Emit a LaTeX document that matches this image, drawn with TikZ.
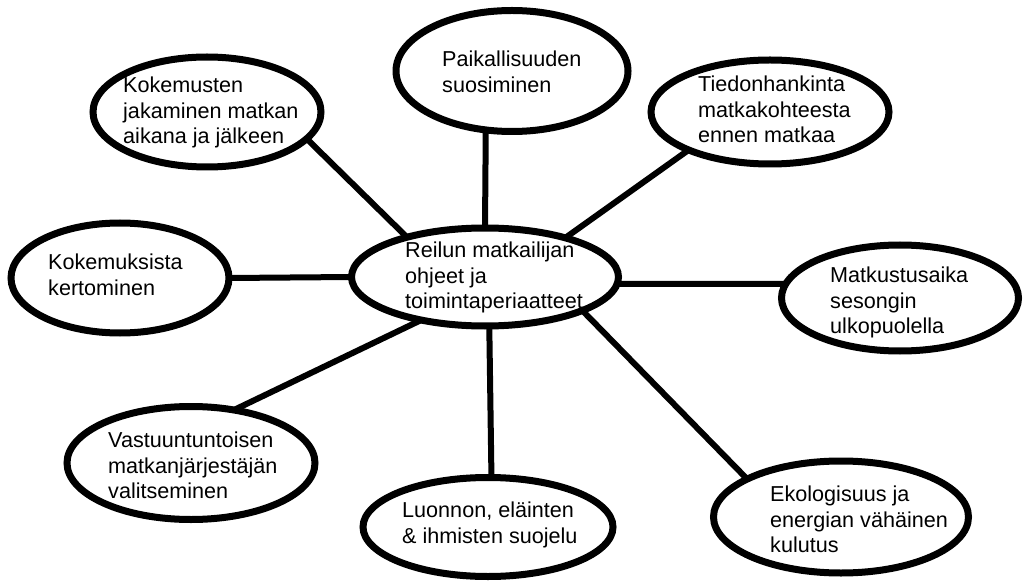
\documentclass[tikz,border=0pt]{standalone}
\usepackage{fontspec}
\setmainfont{Liberation Sans}
\usetikzlibrary{shapes.geometric}
\tikzset{
  bubble/.style={draw, ellipse, line width=7pt, inner sep=0pt, outer sep=0pt},
  words/.style={align=left, inner sep=0pt, anchor=north west,
    font=\fontsize{21.6}{25.5}\selectfont},
  link/.style={line width=6pt}
}
\begin{document}
\begin{tikzpicture}[x=1pt,y=-1pt]
        \useasboundingbox (0,0) rectangle (1025,585);

        % Middle bubble
        \node [bubble, minimum width=267, minimum height=98] (ohjeet) at (485,277) {};
        \node [words] (ohjeet-t) at (405,242) {Reilun matkailijan\\ohjeet ja\\toimintaperiaatteet};

        % Bubbles round it
        \node [bubble, minimum width=232, minimum height=121] (paikallis) at (512,71) {};
        \node [words] (paikallis-t) at (442,51) {Paikallisuuden\\suosiminen};

        \node [bubble, minimum width=228, minimum height=110] (jakaminen) at (207,112) {};
        \node [words] (jakaminen-t) at (123,77) {Kokemusten\\jakaminen matkan\\aikana ja j\"alkeen};

        \node [bubble, minimum width=238, minimum height=104] (tiedon) at (770,112) {};
        \node [words] (tiedon-t) at (698,76) {Tiedonhankinta\\matkakohteesta\\ennen matkaa};

        \node [bubble, minimum width=218, minimum height=110] (kertominen) at (120,278) {};
        \node [words] (kertominen-t) at (48,254) {Kokemuksista\\kertominen};

        \node [bubble, minimum width=237, minimum height=106] (sesonki) at (900,298) {};
        \node [words] (sesonki-t) at (830,267) {Matkustusaika\\sesongin\\ulkopuolella};

        \node [bubble, minimum width=248, minimum height=113] (jarjestaja) at (191,463) {};
        \node [words] (jarjestaja-t) at (108,432) {Vastuuntuntoisen\\matkanj\"arjest\"aj\"an\\valitseminen};

        \node [bubble, minimum width=250, minimum height=99] (suojelu) at (488,527) {};
        \node [words] (suojelu-t) at (402,502) {Luonnon, el\"ainten\\\& ihmisten suojelu};

        \node [bubble, minimum width=255, minimum height=112] (kulutus) at (841,517) {};
        \node [words] (kulutus-t) at (770,486) {Ekologisuus ja\\energian v\"ah\"ainen\\kulutus};

        % Links from the middle
        \draw [link] (ohjeet.90) -- (paikallis.246);
        \draw [link] (ohjeet.153) -- (jakaminen.345);
        \draw [link] (ohjeet.26) -- (tiedon.205);
        \draw [link] (ohjeet.west) -- (kertominen.east);
        \draw [link] (ohjeet.-3) -- (sesonki.173);
        \draw [link] (ohjeet.214) -- (jarjestaja.51);
        \draw [link] (ohjeet.275) -- (suojelu.86);
        \draw [link] (ohjeet.341) -- (kulutus.158);
    \end{tikzpicture}
\end{document}
